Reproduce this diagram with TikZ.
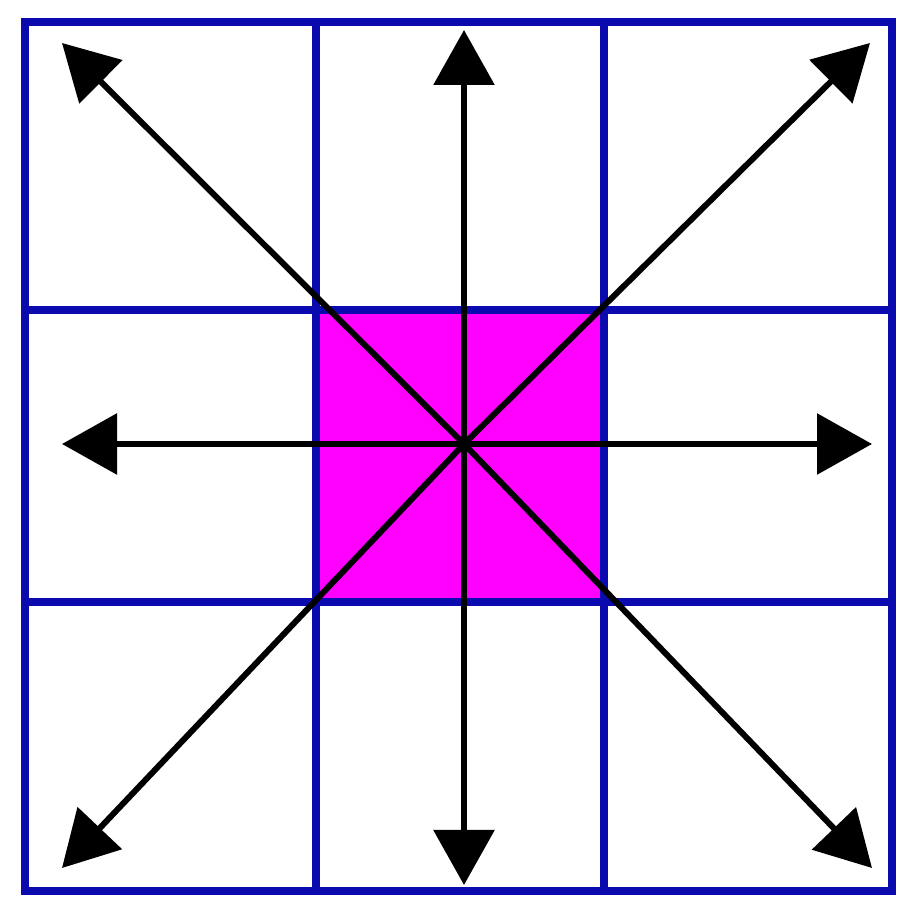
\documentclass[tikz,border=0pt]{standalone}
\usepackage{amsmath}
\usetikzlibrary{arrows.meta}
\definecolor{gridblue}{RGB}{10,10,175}
\definecolor{cellpink}{RGB}{255,0,255}
\newcommand{\gridwd}{2.3pt}

\begin{document}
\begin{tikzpicture}[x=1cm,y=1cm,
    grid line/.style={draw=gridblue, line width=\gridwd},
    dir arrow/.style={draw=black, line width=1.7pt, -{Triangle[length=5.5mm,width=6mm]}}]
        \useasboundingbox (0,0) rectangle (9.18,9.21);

        % centre cell
        \fill[cellpink] (3.16,3.19) rectangle (6.04,6.11);

        % grid
        \draw[grid line] (0.25,0.30) rectangle (8.92,8.99);
        \draw[grid line] (3.16,0.30) -- (3.16,8.99)
        (6.04,0.30) -- (6.04,8.99)
        (0.25,3.19) -- (8.92,3.19)
        (0.25,6.11) -- (8.92,6.11);

        \coordinate (mid) at (4.64,4.77);
        \coordinate (n) at (4.64,8.91);
        \coordinate (s) at (4.64,0.36);
        \coordinate (w) at (0.62,4.77);
        \coordinate (e) at (8.72,4.77);
        \coordinate (nw) at (0.62,8.78);
        \coordinate (ne) at (8.70,8.78);
        \coordinate (sw) at (0.62,0.53);
        \coordinate (se) at (8.72,0.53);

        \foreach \tip in {n,s,w,e,nw,ne,sw,se}
          \draw[dir arrow] (mid) -- (\tip);
\end{tikzpicture}
\end{document}
